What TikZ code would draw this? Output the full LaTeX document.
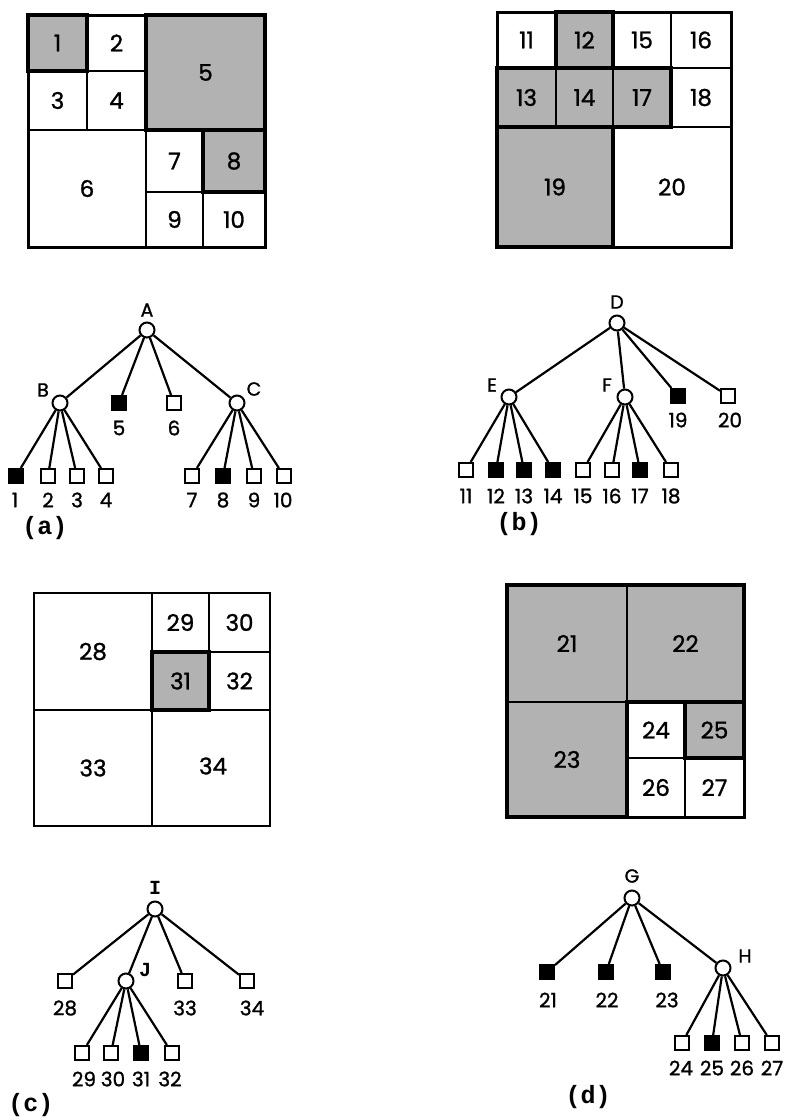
\documentclass[tikz,border=0pt]{standalone}
\usepackage{fontspec}
\setmainfont{Poppins}
\newfontfamily\medfont[FakeBold=1.2]{Poppins}
\newfontfamily\capfont{Liberation Mono}
\begin{document}
\begin{tikzpicture}[x=1pt,y=-1pt]
\tikzset{
  cellthin/.style={draw, line width=2pt},
  cellthick/.style={draw, line width=3.8pt},
  shaded/.style={fill=black!30},
  outer/.style={draw, line width=3pt},
  num/.style={font=\medfont\fontsize{23}{25}\selectfont, inner sep=0pt},
  lbl/.style={font=\medfont\fontsize{20}{22}\selectfont, inner sep=0pt},
  llbl/.style={font=\medfont\fontsize{19}{21}\selectfont, inner sep=0pt},
  mlbl/.style={font=\capfont\bfseries\fontsize{20}{22}\selectfont, inner sep=0pt},
  captext/.style={font=\capfont\bfseries\fontsize{25}{27}\selectfont, inner sep=0pt},
  inode/.style={circle, draw, line width=2pt, minimum size=15pt, inner sep=0pt, fill=white},
  leaf/.style={rectangle, draw, line width=2pt, minimum size=14pt, inner sep=0pt, fill=white},
  bleaf/.style={leaf, fill=black},
  edge/.style={line width=2.2pt}
}
\useasboundingbox (0,0) rectangle (787,1120);

% ---------------- grid (a) ----------------
\draw[cellthin] (87,15) rectangle node[num]{2} (146,71);
\draw[cellthin] (28,71) rectangle node[num]{3} (87,130);
\draw[cellthin] (87,71) rectangle node[num]{4} (146,130);
\draw[cellthin] (28,130) rectangle node[num]{6} (146,247);
\draw[cellthin] (146,130) rectangle node[num]{7} (203,192);
\draw[cellthin] (146,192) rectangle node[num]{9} (203,247);
\draw[cellthin] (203,192) rectangle node[num]{10} (265,247);
\draw[cellthick,shaded] (28,15) rectangle node[num]{1} (87,71);
\draw[cellthick,shaded] (146,15) rectangle node[num]{5} (265,130);
\draw[cellthick,shaded] (203,130) rectangle node[num]{8} (265,192);
\draw[outer] (28,15) rectangle (265,247);

% ---------------- grid (b) ----------------
\draw[cellthin] (497,12) rectangle node[num]{11} (556,68);
\draw[cellthin] (613,12) rectangle node[num]{15} (671,68);
\draw[cellthin] (671,12) rectangle node[num]{16} (731,68);
\draw[cellthin] (671,68) rectangle node[num]{18} (731,127);
\draw[cellthin] (613,127) rectangle node[num]{20} (731,247);
\draw[cellthin,shaded] (497,68) rectangle node[num]{13} (556,127);
\draw[cellthin,shaded] (556,68) rectangle node[num]{14} (613,127);
\draw[cellthin,shaded] (613,68) rectangle node[num]{17} (671,127);
\draw[cellthick] (497,68) rectangle (671,127);
\draw[cellthick,shaded] (556,12) rectangle node[num]{12} (613,68);
\draw[cellthick,shaded] (497,127) rectangle node[num]{19} (613,247);
\draw[outer] (497,12) rectangle (731,247);

% ---------------- grid (c) ----------------
\draw[cellthin] (34,593) rectangle node[num]{28} (152,710);
\draw[cellthin] (152,593) rectangle node[num]{29} (209,652);
\draw[cellthin] (209,593) rectangle node[num]{30} (270,652);
\draw[cellthin] (209,652) rectangle node[num]{32} (270,710);
\draw[cellthin] (34,710) rectangle node[num]{33} (152,826);
\draw[cellthin] (152,710) rectangle node[num, xshift=2pt, yshift=2pt]{34} (270,826);
\draw[cellthick,shaded] (152,652) rectangle node[num]{31} (209,710);
\draw[outer, line width=2.4pt] (34,593) rectangle (270,826);

% ---------------- grid (d) ----------------
\draw[cellthin] (627,702) rectangle node[num]{24} (685,758);
\draw[cellthin] (627,758) rectangle node[num]{26} (685,817);
\draw[cellthin] (685,758) rectangle node[num]{27} (744,817);
\draw[cellthin,shaded] (507,585) rectangle node[num]{21} (627,702);
\draw[cellthin,shaded] (627,585) rectangle node[num]{22} (744,702);
\draw[cellthin,shaded] (507,702) rectangle node[num]{23} (627,817);
\draw[cellthick] (507,585) -- (744,585) -- (744,702) -- (627,702) -- (627,817) -- (507,817) -- cycle;
\draw[cellthick,shaded] (685,702) rectangle node[num]{25} (744,758);
\draw[outer] (507,585) rectangle (744,817);

% ---------------- tree (a) ----------------
\node[inode] (A) at (147,330) {};
\node[inode] (B) at (60,403) {};
\node[inode] (C) at (237,403) {};
\node[bleaf] (a5) at (119,403) {};
\node[leaf]  (a6) at (174,403) {};
\node[bleaf] (a1) at (16,476) {};
\node[leaf]  (a2) at (48,476) {};
\node[leaf]  (a3) at (77,476) {};
\node[leaf]  (a4) at (106,476) {};
\node[leaf]  (a7) at (192,476) {};
\node[bleaf] (a8) at (223,476) {};
\node[leaf]  (a9) at (254,476) {};
\node[leaf]  (a10) at (284,476) {};
\foreach \t in {B,a5,a6,C} \draw[edge] (A) -- (\t);
\foreach \t in {a1,a2,a3,a4} \draw[edge] (B) -- (\t);
\foreach \t in {a7,a8,a9,a10} \draw[edge] (C) -- (\t);
\node[llbl] (lA) at (147,310) {A};
\node[llbl] (lB) at (43,390) {B};
\node[llbl] (lC) at (254,389) {C};
\node[lbl] (l5) at (119,428) {5};
\node[lbl] (l6) at (174,428) {6};
\node[lbl] (l1) at (15,500) {1};
\node[lbl] (l2) at (48,500) {2};
\node[lbl] (l3) at (77,500) {3};
\node[lbl] (l4) at (106,500) {4};
\node[lbl] (l7) at (192,500) {7};
\node[lbl] (l8) at (223,500) {8};
\node[lbl] (l9) at (254,500) {9};
\node[lbl] (l10) at (283,500) {10};
\node[captext] (capa) at (45,528) {(a)};

% ---------------- tree (b) ----------------
\node[inode] (D) at (617,323) {};
\node[inode] (E) at (509,397) {};
\node[inode] (F) at (625,397) {};
\node[bleaf] (b19) at (678,396) {};
\node[leaf]  (b20) at (728,396) {};
\node[leaf]  (b11) at (466,470) {};
\node[bleaf] (b12) at (496,470) {};
\node[bleaf] (b13) at (524,470) {};
\node[bleaf] (b14) at (553,470) {};
\node[leaf]  (b15) at (583,470) {};
\node[leaf]  (b16) at (612,470) {};
\node[bleaf] (b17) at (640,470) {};
\node[leaf]  (b18) at (671,470) {};
\foreach \t in {E,F,b19,b20} \draw[edge] (D) -- (\t);
\foreach \t in {b11,b12,b13,b14} \draw[edge] (E) -- (\t);
\foreach \t in {b15,b16,b17,b18} \draw[edge] (F) -- (\t);
\node[llbl] (lD) at (617,302) {D};
\node[llbl] (lE) at (492,385) {E};
\node[llbl] (lF) at (607,385) {F};
\node[lbl] (l19) at (678,420) {19};
\node[lbl] (l20) at (730,420) {20};
\node[lbl] (l11) at (466,496) {11};
\node[lbl] (l12) at (496,496) {12};
\node[lbl] (l13) at (524,496) {13};
\node[lbl] (l14) at (553,496) {14};
\node[lbl] (l15) at (583,496) {15};
\node[lbl] (l16) at (612,496) {16};
\node[lbl] (l17) at (640,496) {17};
\node[lbl] (l18) at (671,496) {18};
\node[captext] (capb) at (519,524) {(b)};

% ---------------- tree (c) ----------------
\node[inode] (I) at (155,909) {};
\node[inode] (J) at (126,981) {};
\node[leaf]  (c28) at (65,981) {};
\node[leaf]  (c33) at (185,981) {};
\node[leaf]  (c34) at (247,981) {};
\node[leaf]  (c29) at (82,1053) {};
\node[leaf]  (c30) at (111,1053) {};
\node[bleaf] (c31) at (141,1053) {};
\node[leaf]  (c32) at (172,1053) {};
\foreach \t in {c28,J,c33,c34} \draw[edge] (I) -- (\t);
\foreach \t in {c29,c30,c31,c32} \draw[edge] (J) -- (\t);
\node[mlbl] (lI) at (155,888) {I};
\node[mlbl] (lJ) at (145,970) {J};
\node[lbl] (l28) at (65,1008) {28};
\node[lbl] (l33) at (185,1008) {33};
\node[lbl] (l34) at (252,1008) {34};
\node[lbl] (l29) at (84,1079) {29};
\node[lbl] (l30) at (113,1079) {30};
\node[lbl] (l31) at (141,1079) {31};
\node[lbl] (l32) at (170,1079) {32};
\node[captext] (capc) at (31,1105) {(c)};

% ---------------- tree (d) ----------------
\node[inode] (G) at (632,898) {};
\node[inode] (H) at (723,968) {};
\node[bleaf] (d21) at (547,972) {};
\node[bleaf] (d22) at (606,972) {};
\node[bleaf] (d23) at (663,972) {};
\node[leaf]  (d24) at (682,1043) {};
\node[bleaf] (d25) at (712,1043) {};
\node[leaf]  (d26) at (742,1043) {};
\node[leaf]  (d27) at (772,1043) {};
\foreach \t in {d21,d22,d23,H} \draw[edge] (G) -- (\t);
\foreach \t in {d24,d25,d26,d27} \draw[edge] (H) -- (\t);
\node[llbl] (lG) at (632,876) {G};
\node[llbl] (lH) at (745,956) {H};
\node[lbl] (l21) at (548,1000) {21};
\node[lbl] (l22) at (607,1000) {22};
\node[lbl] (l23) at (667,1000) {23};
\node[lbl] (l24) at (681,1068) {24};
\node[lbl] (l25) at (712,1068) {25};
\node[lbl] (l26) at (742,1068) {26};
\node[lbl] (l27) at (772,1068) {27};
\node[captext] (capd) at (588,1097) {(d)};
\end{tikzpicture}
\end{document}
